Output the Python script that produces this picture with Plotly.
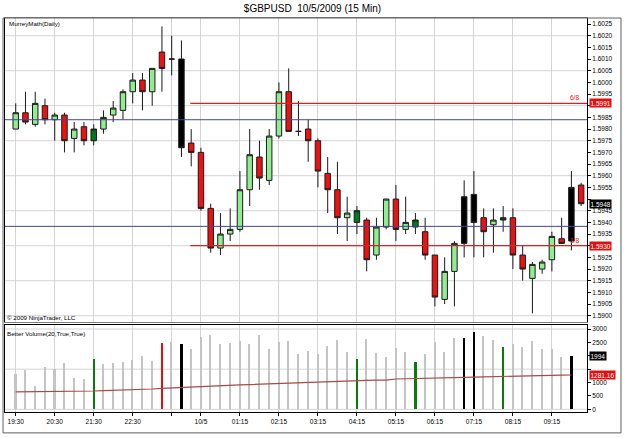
import plotly.graph_objects as go

# ---------------- data ----------------
bar_index = list(range(59))
open_ = [1.5980, 1.5987, 1.5982, 1.5990, 1.5984, 1.5986, 1.5976, 1.5981, 1.5975, 1.5980,
         1.5986, 1.5988, 1.5996, 1.6001, 1.5996, 1.6013, 1.6010, 1.6010, 1.5974, 1.5970,
         1.5946, 1.5929, 1.5935, 1.5937, 1.5954, 1.5968, 1.5958, 1.5977, 1.5996, 1.5979,
         1.5980, 1.5975, 1.5961, 1.5954, 1.5942, 1.5940, 1.5941, 1.5926, 1.5938, 1.5950,
         1.5937, 1.5938, 1.5936, 1.5926, 1.5907, 1.5919, 1.5931, 1.5952, 1.5942, 1.5939,
         1.5941, 1.5942, 1.5926, 1.5916, 1.5920, 1.5924, 1.5933, 1.5932, 1.5956]
high_ = [1.5991, 1.5996, 1.5996, 1.5993, 1.5987, 1.5987, 1.5983, 1.5983, 1.5982, 1.5988,
         1.5992, 1.5997, 1.6004, 1.6004, 1.6006, 1.6024, 1.6020, 1.6018, 1.5980, 1.5972,
         1.5948, 1.5944, 1.5946, 1.5962, 1.5980, 1.5975, 1.5980, 1.6000, 1.6006, 1.5992,
         1.5984, 1.5976, 1.5968, 1.5966, 1.5951, 1.5947, 1.5942, 1.5942, 1.5950, 1.5956,
         1.5951, 1.5944, 1.5942, 1.5926, 1.5925, 1.5932, 1.5958, 1.5962, 1.5946, 1.5946,
         1.5947, 1.5946, 1.5930, 1.5923, 1.5924, 1.5936, 1.5942, 1.5962, 1.5957]
low_ = [1.5980, 1.5982, 1.5981, 1.5982, 1.5975, 1.5970, 1.5970, 1.5973, 1.5973, 1.5978,
        1.5983, 1.5984, 1.5991, 1.5988, 1.5990, 1.5996, 1.6003, 1.5968, 1.5964, 1.5945,
        1.5927, 1.5926, 1.5932, 1.5936, 1.5947, 1.5954, 1.5956, 1.5976, 1.5979, 1.5977,
        1.5966, 1.5955, 1.5944, 1.5935, 1.5932, 1.5935, 1.5919, 1.5924, 1.5937, 1.5932,
        1.5935, 1.5935, 1.5924, 1.5904, 1.5905, 1.5904, 1.5925, 1.5925, 1.5925, 1.5927,
        1.5936, 1.5920, 1.5915, 1.5901, 1.5918, 1.5919, 1.5931, 1.5928, 1.5947]
close_ = [1.5987, 1.5983, 1.5991, 1.5984, 1.5986, 1.5975, 1.5980, 1.5975, 1.5980, 1.5985,
          1.5989, 1.5996, 1.6001, 1.5996, 1.6006, 1.6006, 1.6010, 1.5972, 1.5970, 1.5946,
          1.5929, 1.5935, 1.5937, 1.5954, 1.5969, 1.5959, 1.5977, 1.5996, 1.5979, 1.5979,
          1.5975, 1.5962, 1.5954, 1.5942, 1.5944, 1.5945, 1.5924, 1.5938, 1.5950, 1.5937,
          1.5940, 1.5941, 1.5926, 1.5908, 1.5919, 1.5931, 1.5951, 1.5940, 1.5936, 1.5941,
          1.5942, 1.5926, 1.5920, 1.5922, 1.5923, 1.5934, 1.5931, 1.5955, 1.5948]
volume = [1319, 1468, 870, 1580, 1505, 1742, 1169, 1119, 1891, 1705,
          1730, 1767, 1829, 1991, 1804, 2489, 2526, 2439, 2252, 2713,
          2788, 2439, 2464, 2551, 2452, 2776, 2252, 2526, 2551, 2078,
          2170, 2066, 2377, 2589, 2140, 1879, 2614, 2091, 1966, 2290,
          2128, 1767, 2078, 2514, 2128, 2676, 2651, 2888, 2738, 2589,
          2315, 2452, 2327, 2564, 2265, 2252, 1966, 1994, None]
volume_ma = [650, 652, 655, 672, 675, 678, 680, 682, 685, 700,
             708, 712, 720, 735, 760, 783, 800, 833, 850, 870,
             885, 900, 908, 915, 925, 940, 955, 965, 985, 1000,
             1020, 1030, 1045, 1055, 1070, 1082, 1085, 1088, 1090, 1132,
             1138, 1145, 1150, 1160, 1170, 1180, 1194, 1205, 1215, 1225,
             1240, 1250, 1256, 1262, 1268, 1272, 1276, 1281.16, None]

churn_bars = [8, 35, 41, 50]          # green volume / dark green candle
climax_bars = [17, 46, 47, 57]        # black
climax_up_bars = [15]                 # red volume bar

tick_idx = [0, 4, 8, 12, 16, 19, 23, 27, 31, 35, 39, 43, 47, 51, 55]
tick_text = ['19:30', '20:30', '21:30', '22:30', '', '10/5', '01:15', '02:15',
             '03:15', '04:15', '05:15', '06:15', '07:15', '08:15', '09:15']

price_ticks = [1.5900, 1.5905, 1.5910, 1.5915, 1.5920, 1.5925, 1.5930, 1.5935, 1.5940,
               1.5945, 1.5950, 1.5955, 1.5960, 1.5965, 1.5970, 1.5975, 1.5980, 1.5985,
               1.5990, 1.5995, 1.6000, 1.6005, 1.6010, 1.6015, 1.6020, 1.6025]
price_grid = [1.5900, 1.5915, 1.5930, 1.5945, 1.5960, 1.5975, 1.5990, 1.6005, 1.6020]
vol_ticks = [0, 500, 1000, 1500, 2000, 2500, 3000]
vol_grid = [0, 1500, 3000]

mm_levels = [("6/8", 1.5991), ("1/8", 1.5930)]
mm_start_bar = 18
blue_levels = [1.5984, 1.59383]
last_price = 1.5948
last_volume = 1994
last_ma = 1281.16

# ---------------- colours ----------------
C_UP = "#90ee90"
C_DOWN = "#ee1111"
C_CHURN = "#007a1a"
C_CLIMAX = "#000000"
GRID = "#d4d4d4"
FONT = "Arial, Liberation Sans, sans-serif"

fig = go.Figure()

groups = {}
for i in bar_index:
    if i in climax_bars:
        key = "climax"
    elif i in churn_bars:
        key = "churn"
    elif close_[i] > open_[i]:
        key = "up"
    else:
        key = "down"
    groups.setdefault(key, []).append(i)

fills = {"up": C_UP, "down": C_DOWN, "churn": C_CHURN, "climax": C_CLIMAX}
for key, idxs in groups.items():
    fc = fills[key]
    fig.add_trace(go.Candlestick(
        x=idxs,
        open=[open_[i] for i in idxs], high=[high_[i] for i in idxs],
        low=[low_[i] for i in idxs], close=[close_[i] for i in idxs],
        increasing=dict(fillcolor=fc, line=dict(color="#1a1a1a", width=1)),
        decreasing=dict(fillcolor=fc, line=dict(color="#1a1a1a", width=1)),
        whiskerwidth=0, showlegend=False, xaxis="x", yaxis="y",
    ))

vcols, vw = [], []
for i in bar_index:
    if i in churn_bars:
        vcols.append("#0a7a0a"); vw.append(0.24)
    elif i in climax_bars:
        vcols.append("#000000"); vw.append(0.24)
    elif i in climax_up_bars:
        vcols.append("#e01010"); vw.append(0.24)
    else:
        vcols.append("#c4c4c4"); vw.append(0.16)
fig.add_trace(go.Bar(x=bar_index, y=volume, marker=dict(color=vcols, line=dict(width=0)),
                     width=vw, xaxis="x2", yaxis="y2", showlegend=False))
fig.add_trace(go.Scatter(x=bar_index, y=volume_ma, mode="lines",
                         line=dict(color="#a84848", width=1.2),
                         xaxis="x2", yaxis="y2", showlegend=False))

shapes = []
for g in price_grid:
    shapes.append(dict(type="line", xref="paper", yref="y", x0=0, x1=1, y0=g, y1=g,
                       line=dict(color=GRID, width=1), layer="below"))
for g in vol_grid:
    shapes.append(dict(type="line", xref="paper", yref="y2", x0=0, x1=1, y0=g, y1=g,
                       line=dict(color=GRID, width=1), layer="below"))
for b in blue_levels:
    shapes.append(dict(type="line", xref="paper", yref="y", x0=0, x1=1, y0=b, y1=b,
                       line=dict(color="#44449a", width=1)))
for name, lv in mm_levels:
    shapes.append(dict(type="line", xref="x", yref="y", x0=mm_start_bar - 0.1, x1=58.6,
                       y0=lv, y1=lv, line=dict(color="#e02020", width=1.2)))
shapes.append(dict(type="rect", xref="paper", yref="paper", x0=-0.0034, x1=1.0584,
                   y0=-0.053, y1=1.0, line=dict(color="#606060", width=1)))

annotations = [
    dict(text="MurreyMath(Daily)", xref="paper", yref="paper", x=0.004, y=0.985,
         xanchor="left", yanchor="middle", showarrow=False, font=dict(size=6.2, color="#000")),
    dict(text="© 2009 NinjaTrader, LLC", xref="paper", yref="paper", x=0.0, y=0.2386,
         xanchor="left", yanchor="middle", showarrow=False, font=dict(size=6.2, color="#000")),
    dict(text="Better Volume(20,True,True)", xref="paper", yref="paper", x=0.0, y=0.2005,
         xanchor="left", yanchor="middle", showarrow=False, font=dict(size=6.2, color="#000")),
]
for name, lv in mm_levels:
    annotations.append(dict(text=name, xref="paper", yref="y", x=0.99, y=lv,
                            xanchor="right", yanchor="bottom", showarrow=False,
                            font=dict(size=6.5, color="#e02020")))
pills = [(last_price, "y", "1.5948", "#000000"),
         (mm_levels[0][1], "y", "1.5991", "#e01010"),
         (mm_levels[1][1], "y", "1.5930", "#e01010"),
         (last_volume, "y2", "1994", "#000000"),
         (last_ma, "y2", "1281.16", "#e01010")]
for yv, yr, txt, col in pills:
    annotations.append(dict(text=txt, xref="paper", yref=yr, x=1.003, y=yv,
                            xanchor="left", yanchor="middle", showarrow=False,
                            bgcolor=col, borderpad=0.5,
                            font=dict(size=6.5, color="#ffffff")))

# tick labels that sit under the marker pills are hidden, as in the reference
hidden_price = {"1.5990", "1.5930", "1.5950"}
hidden_vol = {2000, 1500}
price_text = [("" if f"{v:.4f}" in hidden_price else f"{v:.4f}") for v in price_ticks]
vol_text = [("" if v in hidden_vol else str(v)) for v in vol_ticks]

fig.update_layout(
    width=625, height=438,
    margin=dict(l=5, r=38, t=18, b=26),
    paper_bgcolor="white", plot_bgcolor="white",
    font=dict(family=FONT, size=6.5, color="#000"),
    title=dict(text="$GBPUSD\u00a0\u00a010/5/2009 (15 Min)", xref="container", x=0.5,
               y=1 - 8 / 438, yanchor="middle", xanchor="center",
               font=dict(size=10, color="#000", family=FONT)),
    boxgap=0.3, boxgroupgap=0.2,
    bargap=0,
    xaxis=dict(domain=[0, 1], range=[-1.1, 58.6], anchor="y", tickvals=tick_idx,
               showticklabels=False, showgrid=True, gridcolor=GRID, gridwidth=1,
               showline=True, mirror=True, linecolor="#808080", ticks="",
               rangeslider=dict(visible=False), zeroline=False),
    yaxis=dict(domain=[0.2284, 1], range=[1.58973, 1.60276], side="right", anchor="x",
               tickvals=price_ticks, ticktext=price_text,
               showgrid=False, showline=True, mirror=True, linecolor="#000",
               ticks="outside", ticklen=3, tickcolor="#000", zeroline=False,
               tickfont=dict(size=6.5)),
    xaxis2=dict(domain=[0, 1], matches="x", anchor="y2", tickvals=tick_idx,
                ticktext=tick_text, showgrid=True, gridcolor=GRID, gridwidth=1,
                showline=True, mirror=True, linecolor="#000", ticks="outside",
                ticklen=3, tickcolor="#000", tickfont=dict(size=6.5), zeroline=False),
    yaxis2=dict(domain=[0, 0.2208], range=[-100, 3150], side="right", anchor="x2",
                tickvals=vol_ticks, ticktext=vol_text, showgrid=False, showline=True,
                mirror=True, linecolor="#000", ticks="outside", ticklen=3, tickcolor="#000",
                zeroline=False, tickfont=dict(size=6.5)),
    shapes=shapes, annotations=annotations,
)

fig.write_html("out.html")
